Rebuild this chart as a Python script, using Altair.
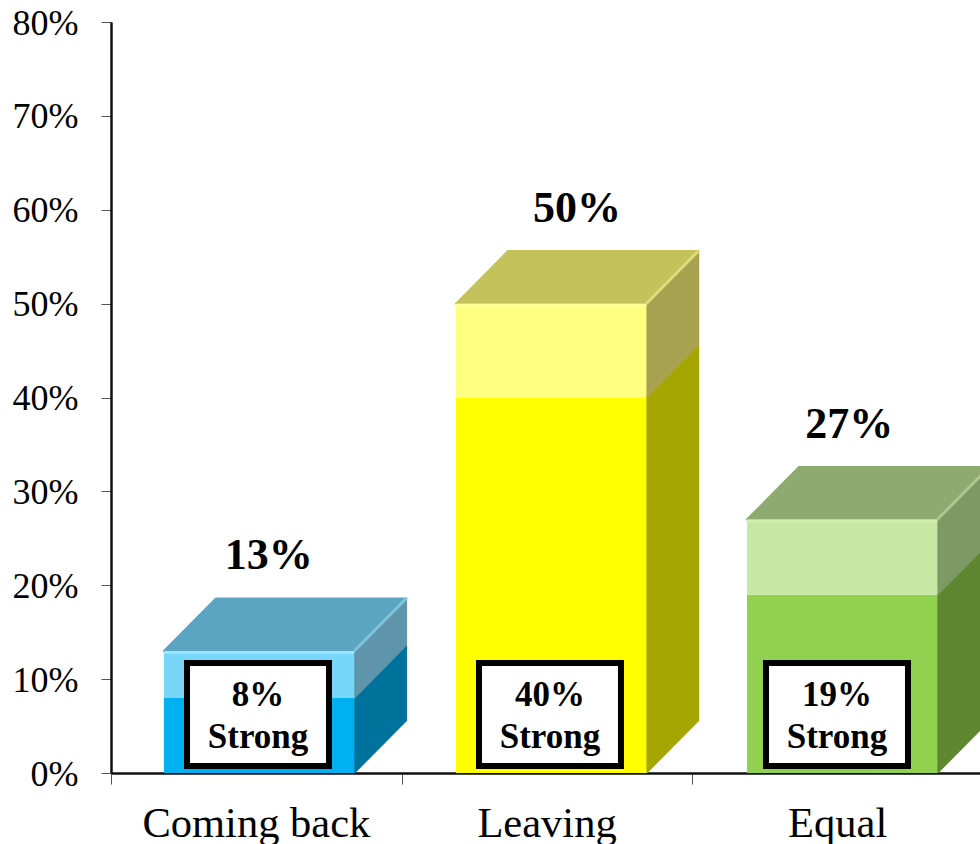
import altair as alt
import pandas as pd

categories = ["Coming back", "Leaving", "Equal"]
total = [13, 50, 27]
strong = [8, 40, 19]
total_labels = ["13%", "50%", "27%"]
strong_labels = ["8%", "40%", "19%"]
bar_left = [0.182, 1.187, 2.188]
box_left = [0.2615, 1.266, 2.2534]
label_center = [0.543, 1.603, 2.54]
category_center = [0.5, 1.5, 2.5]

front_solid = ["#00B0F0", "#FFFF00", "#92D050"]
front_light = ["#78D6F8", "#FFFF80", "#C6E8A2"]
side_solid = ["#00739D", "#A6A600", "#5F8732"]
side_light = ["#5F95AA", "#A8A250", "#7E9A64"]
top_face = ["#5BA5C2", "#C4C25A", "#8FAA70"]
edge_light = ["#A8E8FF", "#FFFFA0", "#D4F0B4"]

# Bar proportions, in axis units
BAR_W = 0.655
DEPTH_X = 0.179
DEPTH_Y = 5.6
BOX_W = 0.4885
BOX_Y = (0.75, 11.72)
X_MAX = 869 / 290.67
FONT = "Liberation Serif"

x_scale = alt.Scale(domain=[0, X_MAX], nice=False, zero=False)
y_scale = alt.Scale(domain=[0, 80], nice=False)

fronts, sides, tops, boxes, labels, ridges = [], [], [], [], [], []
for i in range(3):
    l, r = bar_left[i], bar_left[i] + BAR_W
    t, s = total[i], strong[i]
    fronts.append(dict(x=l, x2=r, y=0, y2=s, c=front_solid[i]))
    fronts.append(dict(x=l, x2=r, y=s, y2=t, c=front_light[i]))
    for face, lo, hi, col in [("a", 0, s, side_solid[i]), ("b", s, t, side_light[i])]:
        key = f"{i}{face}"
        sides.append(dict(k=key, x=r, y=lo, y2=hi, c=col))
        sides.append(dict(k=key, x=r + DEPTH_X, y=lo + DEPTH_Y, y2=hi + DEPTH_Y, c=col))
    tops.append(dict(k=i, y=t, x=l, x2=r, c=top_face[i]))
    tops.append(dict(k=i, y=t + DEPTH_Y, x=l + DEPTH_X, x2=r + DEPTH_X, c=top_face[i]))
    ridges.append(dict(k=i, x=r, y=t, c=edge_light[i]))
    ridges.append(dict(k=i, x=r + DEPTH_X, y=t + DEPTH_Y, c=edge_light[i]))
    boxes.append(dict(x=box_left[i], x2=box_left[i] + BOX_W, y=BOX_Y[0], y2=BOX_Y[1],
                      v=strong_labels[i], cx=box_left[i] + BOX_W / 2))
    labels.append(dict(x=label_center[i], y=t + DEPTH_Y + 4.5, t=total_labels[i],
                       cx=category_center[i], name=categories[i]))

fronts, sides, tops, boxes, labels, ridges = map(pd.DataFrame, (fronts, sides, tops, boxes, labels, ridges))
edges = fronts.iloc[1::2].assign(y=lambda d: d.y2 - 0.3, c=edge_light)

X = alt.X("x:Q", scale=x_scale, title=None,
          axis=alt.Axis(values=[0, 1, 2, 3], labels=False, grid=False, tickSize=11,
                        tickColor="#555555", tickWidth=1, domainColor="#111111", domainWidth=2.5))
Y = alt.Y("y:Q", scale=y_scale, title=None, stack=None,
          axis=alt.Axis(values=list(range(0, 81, 10)), grid=False, tickSize=10, tickColor="#555555",
                        tickWidth=1, domainColor="#111111", domainWidth=2.5, labelPadding=23,
                        labelFont=FONT, labelFontSize=36, labelColor="#000000", labelOffset=1,
                        labelExpr="datum.value + '%'"))
C = alt.Color("c:N", scale=None)
S = alt.Stroke("c:N", scale=None)

front_layer = alt.Chart(fronts).mark_rect(clip=True).encode(x=X, x2="x2:Q", y=Y, y2="y2:Q", color=C)
edge_layer = alt.Chart(edges).mark_rect(clip=True, opacity=0.8).encode(x=X, x2="x2:Q", y=Y, y2="y2:Q", color=C)
side_layer = alt.Chart(sides).mark_area(clip=True, interpolate="linear", strokeWidth=1.5, strokeJoin="round").encode(
    x=X, y=Y, y2="y2:Q", color=C, stroke=S, detail="k:N")
top_layer = alt.Chart(tops).mark_area(clip=True, orient="horizontal", interpolate="linear",
                                      strokeWidth=2, strokeJoin="round").encode(
    x=alt.X("x:Q", scale=x_scale), x2="x2:Q", y=alt.Y("y:Q", scale=y_scale, stack=None),
    color=C, stroke=S, detail="k:N")
ridge_layer = alt.Chart(ridges).mark_line(clip=True, strokeWidth=3, opacity=0.45).encode(
    x=alt.X("x:Q", scale=x_scale), y=alt.Y("y:Q", scale=y_scale), color=C, detail="k:N")
box_layer = alt.Chart(boxes).mark_rect(fill="#FFFFFF", stroke="#000000", strokeWidth=6).encode(
    x=alt.X("x:Q", scale=x_scale), x2="x2:Q", y=alt.Y("y:Q", scale=y_scale), y2="y2:Q")
box_value = alt.Chart(boxes).mark_text(font=FONT, fontWeight="bold", fontSize=35, color="#000000", dy=-78).encode(
    x=alt.X("cx:Q", scale=x_scale), y=alt.datum(0, scale=y_scale), text="v:N")
box_word = alt.Chart(boxes).mark_text(font=FONT, fontWeight="bold", fontSize=35, color="#000000", dy=-36).encode(
    x=alt.X("cx:Q", scale=x_scale), y=alt.datum(0, scale=y_scale), text=alt.value("Strong"))
total_text = alt.Chart(labels).mark_text(font=FONT, fontWeight="bold", fontSize=44, color="#000000").encode(
    x=alt.X("x:Q", scale=x_scale), y=alt.Y("y:Q", scale=y_scale), text="t:N")
category_text = alt.Chart(labels).mark_text(font=FONT, fontSize=42.5, color="#000000", dy=51).encode(
    x=alt.X("cx:Q", scale=x_scale), y=alt.datum(0, scale=y_scale), text="name:N")

chart = alt.layer(
    side_layer, top_layer, front_layer, ridge_layer, edge_layer, box_layer,
    box_value, box_word, total_text, category_text,
).properties(
    width=869, height=751,
    padding={"left": 111, "top": 22, "right": 0, "bottom": 71},
    autosize=alt.AutoSizeParams(type="none"),
    background="#FFFFFF",
).configure_view(stroke=None)

chart.save("out.html", embed_options={"renderer": "svg", "actions": False})
